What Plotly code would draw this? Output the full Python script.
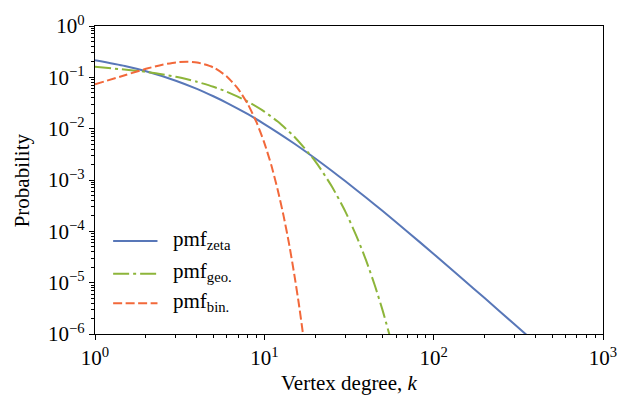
import plotly.graph_objects as go

# Degree distributions (probability mass at vertex degree k)
k_zeta = [1, 1.5, 2, 3, 4, 5, 6, 8, 10, 12, 15, 20, 25, 30, 40, 50, 70, 100, 150, 200, 300, 400]
p_zeta = [0.215, 0.166, 0.131, 0.0860, 0.0595, 0.0428, 0.0319, 0.0191, 0.0123, 0.0084,
          0.00514, 0.00262, 0.001515, 0.000954, 0.000450, 0.000248, 9.84e-5, 3.63e-5,
          1.145e-5, 5.0e-6, 1.55e-6, 6.7e-7]

k_geo = [1, 2, 3, 4, 5, 6, 8, 10, 12, 15, 20, 25, 30, 35, 40, 45, 50, 55]
p_geo = [0.16, 0.128, 0.1024, 0.0819, 0.0655, 0.0524, 0.0336, 0.0215, 0.01374, 0.00704,
         0.00231, 0.000756, 0.000248, 8.1e-5, 2.66e-5, 8.7e-6, 2.85e-6, 9.3e-7]

k_bin = [1, 1.5, 2, 2.5, 3, 3.5, 4, 5, 6, 7, 8, 9, 10, 11, 12, 13, 14, 15, 16, 17]
p_bin = [0.073, 0.110, 0.1465, 0.176, 0.195, 0.2015, 0.195, 0.156, 0.104, 0.0595, 0.0298,
         0.0132, 0.0053, 0.00193, 0.00064, 0.000198, 5.7e-5, 1.5e-5, 3.8e-6, 8.9e-7]

series_names = ["pmf<sub>zeta</sub>", "pmf<sub>geo.</sub>", "pmf<sub>bin.</sub>"]
colors = ["#5877B8", "#8DB53A", "#F2683A"]
dashes = ["solid", "16px,4px,3px,4px", "9px,3.5px"]

x_ticks = [1, 10, 100, 1000]
x_ticktext = ["10<sup>0</sup>", "10<sup>1</sup>", "10<sup>2</sup>", "10<sup>3</sup>"]
y_ticks = [1e-6, 1e-5, 1e-4, 1e-3, 1e-2, 1e-1, 1]
y_ticktext = ["10<sup>−6</sup>", "10<sup>−5</sup>", "10<sup>−4</sup>", "10<sup>−3</sup>",
              "10<sup>−2</sup>", "10<sup>−1</sup>", "10<sup>0</sup>"]

FONT = "Liberation Serif"
FS = 21

fig = go.Figure()
for xs, ys, name, c, d in zip([k_zeta, k_geo, k_bin], [p_zeta, p_geo, p_bin],
                              series_names, colors, dashes):
    fig.add_trace(go.Scatter(x=xs, y=ys, mode="lines", name=name,
                             line=dict(color=c, width=2, dash=d, shape="spline", smoothing=0.6),
                             showlegend=False))

# minor tick positions (2..9 within each decade)
x_minor = [m * 10 ** e for e in range(0, 3) for m in range(2, 10)]
y_minor = [m * 10.0 ** e for e in range(-6, 0) for m in range(2, 10)]

axis_common = dict(
    type="log", showgrid=False, zeroline=False,
    showline=True, linecolor="black", linewidth=1.3, mirror=True,
    ticks="outside", ticklen=5, tickwidth=1.1, tickcolor="black",
    tickfont=dict(family=FONT, size=FS, color="black"),
)

fig.update_xaxes(range=[0, 3], tickmode="array", tickvals=x_ticks, ticktext=x_ticktext,
                 minor=dict(tickmode="array", tickvals=x_minor, ticks="outside",
                            ticklen=3, tickwidth=0.8, tickcolor="black"),
                 **axis_common)
fig.update_yaxes(range=[-6, 0], tickmode="array", tickvals=y_ticks, ticktext=y_ticktext,
                 minor=dict(tickmode="array", tickvals=y_minor, ticks="outside",
                            ticklen=3, tickwidth=0.8, tickcolor="black"),
                 **axis_common)

# hand-placed legend in the lower-left of the axes
legend_y = [0.302, 0.196, 0.100]
for yv, name, c, d in zip(legend_y, series_names, colors, dashes):
    fig.add_shape(type="line", xref="paper", yref="paper", x0=0.0357, x1=0.123, y0=yv, y1=yv,
                  line=dict(color=c, width=2, dash=d))
    fig.add_annotation(xref="paper", yref="paper", x=0.150, y=yv + 0.004, text=name,
                       showarrow=False, xanchor="left", yanchor="middle",
                       font=dict(family=FONT, size=FS, color="black"))

fig.add_annotation(xref="paper", yref="paper", x=0.5, y=-0.16, text="Vertex degree, <i>k</i>",
                   showarrow=False, xanchor="center", yanchor="middle",
                   font=dict(family=FONT, size=FS, color="black"))
fig.add_annotation(xref="paper", yref="paper", x=-0.143, y=0.5, text="Probability",
                   showarrow=False, textangle=-90, xanchor="center", yanchor="middle",
                   font=dict(family=FONT, size=FS, color="black"))

fig.update_layout(width=629, height=403, margin=dict(l=95, r=23, t=17, b=69),
                  paper_bgcolor="white", plot_bgcolor="white",
                  font=dict(family=FONT, color="black"))

fig.write_html("out.html")
